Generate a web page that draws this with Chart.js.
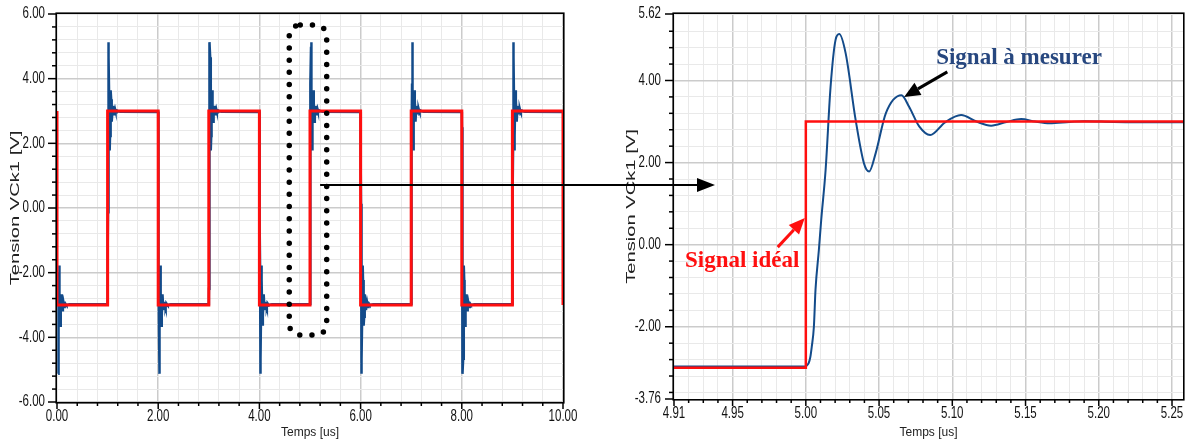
<!DOCTYPE html>
<html>
<head>
<meta charset="utf-8">
<script src="https://cdn.jsdelivr.net/npm/chart.js@4.4.1/dist/chart.umd.min.js"></script>
<style>
  html, body { margin: 0; padding: 0; background: #fff; }
  #wrap { position: relative; width: 1191px; height: 445px; overflow: hidden; }
  canvas { position: absolute; top: 0; }
  #left { left: 0; }
  #right { left: 600px; }
  #overlay { left: 0; pointer-events: none; }
</style>
</head>
<body>
<div id="wrap">
  <canvas id="left" width="600" height="445"></canvas>
  <canvas id="right" width="591" height="445"></canvas>
  <canvas id="overlay" width="1191" height="445"></canvas>
</div>
<script>
// ---- values ----
// ideal square wave (left chart)
const idealTimes  = [0, 0, 1, 1, 2, 2, 3, 3, 4, 4, 5, 5, 6, 6, 7, 7, 8, 8, 9, 9, 10, 10];
const idealLevels = [3, -3, -3, 3, 3, -3, -3, 3, 3, -3, -3, 3, 3, -3, -3, 3, 3, -3, -3, 3, 3, -3];

// edges of the measured signal
const risingEdges  = [1, 3, 5, 7, 9];
const fallingEdges = [0, 2, 4, 6, 8, 10];

// measured response after a rising edge: time after the edge [us] and voltage [V]
const stepOffsets = [0, 0.001, 0.002, 0.003, 0.004, 0.0055, 0.0066, 0.0089, 0.0105, 0.0135,
                     0.0169, 0.0203, 0.0228, 0.0272, 0.034, 0.0397, 0.0432, 0.0477, 0.0546,
                     0.0653, 0.0705, 0.0774, 0.0849, 0.095, 0.106, 0.1165, 0.1265, 0.137, 0.147,
                     0.1565, 0.1664, 0.18, 0.19, 0.21, 0.25];
const stepValues  = [-2.97, -2.93, -2.88, -2.75, -2.5, -2.0, -1.1, -0.13, 0.6, 1.82,
                     3.85, 4.99, 5.13, 4.66, 3.04, 1.98, 1.78, 2.23, 3.2,
                     3.64, 3.36, 2.88, 2.67, 2.98, 3.16, 3.0, 2.9, 2.99, 3.06,
                     3.0, 2.96, 2.99, 3.01, 2.99, 2.98];

// zoomed view (right chart)
const zoomEdge = 5.0;
const zoomIdealTimes  = [4.91, 5.0, 5.0, 5.2575];
const zoomIdealLevels = [-3, -3, 3, 3];

// axis ranges and tick labels
const leftX = [0, 10], leftY = [-6, 6];
const rightX = [4.91, 5.2575], rightY = [-3.76, 5.62];
const leftXLabels = [0, 2, 4, 6, 8, 10];
const leftYLabels = [-6, -4, -2, 0, 2, 4, 6];
const rightXLabels = [4.91, 4.95, 5.0, 5.05, 5.1, 5.15, 5.2, 5.25];
const rightYLabels = [-3.76, -2, 0, 2, 4, 5.62];
const rightXMajorGrid = [4.95, 5.0, 5.05, 5.1, 5.15, 5.2, 5.25];
const rightYMajorGrid = [-2, 0, 2, 4];

// ---- series built from the values above ----
const idealLeft = idealTimes.map((t, i) => ({ x: t, y: idealLevels[i] }));
const peakIndex = stepValues.indexOf(Math.max(...stepValues));
const edges = fallingEdges.map(t => ({ t, s: -1 }))
  .concat(risingEdges.map(t => ({ t, s: 1 })))
  .sort((a, b) => a.t - b.t);
const measuredLeft = [];
edges.forEach(({ t, s }, i) => {
  for (let k = i === 0 ? peakIndex : 0; k < stepOffsets.length; k++) {
    measuredLeft.push({ x: t + stepOffsets[k], y: s * stepValues[k] });
  }
});

const idealRight = zoomIdealTimes.map((t, i) => ({ x: t, y: zoomIdealLevels[i] }));
const measuredRight = [{ x: rightX[0], y: stepValues[0] }]
  .concat(stepOffsets.map((o, k) => ({ x: zoomEdge + o, y: stepValues[k] })))
  .concat([{ x: rightX[1], y: stepValues[stepValues.length - 1] }]);

// ---- styling ----
const RED = '#ff0f0f';
const BLUE = '#134b8a';
const SANS = '"Liberation Sans", Arial, sans-serif';
const SERIF = '"Liberation Serif", "Times New Roman", serif';

const near = (list, v) => list.some(m => Math.abs(m - v) < 1e-6);

function tickList(min, max, step, bounds) {
  const out = [];
  for (let k = Math.ceil(min / step - 1e-6); k <= Math.floor(max / step + 1e-6); k++) {
    const v = +(k * step).toFixed(4);
    if (!bounds.some(b => Math.abs(b - v) < step * 0.3)) out.push(v);
  }
  return out.concat(bounds).sort((a, b) => a - b);
}

function axis(range, step, bounds, majors, title) {
  return {
    type: 'linear',
    min: range[0],
    max: range[1],
    afterBuildTicks: s => { s.ticks = tickList(range[0], range[1], step, bounds).map(value => ({ value })); },
    ticks: { display: false, autoSkip: false, maxRotation: 0, minRotation: 0 },
    grid: {
      drawTicks: false,
      color: c => near(majors, c.tick.value) ? '#cbcbcb' : '#e9e9e9',
      lineWidth: c => near(majors, c.tick.value) ? 1.5 : 1
    },
    border: { display: false },
    title: title ? { display: true, text: title, color: '#222', font: { family: SANS, size: 12 }, padding: { top: 0, bottom: 5 } } : { display: false }
  };
}

// condensed text, as the original plotting tool draws it
function squeezed(ctx, text, x, y, sx, align, base) {
  ctx.save();
  ctx.translate(x, y);
  ctx.scale(sx, 1);
  ctx.textAlign = align;
  ctx.textBaseline = base;
  ctx.fillText(text, 0, 0);
  ctx.restore();
}

// frame, tick marks, tick labels and the rotated, stretched y title
const frame = {
  id: 'frame',
  afterDraw(chart, args, opts) {
    const { ctx, chartArea: a, scales: { x, y } } = chart;
    ctx.save();
    ctx.strokeStyle = '#000';
    ctx.fillStyle = '#111';
    ctx.lineWidth = 1.5;
    ctx.font = '16px ' + SANS;
    y.ticks.forEach(t => {
      const p = y.getPixelForValue(t.value), major = near(opts.yLabels, t.value);
      const len = major ? 9 : 5;
      ctx.beginPath(); ctx.moveTo(a.left - len, p); ctx.lineTo(a.left, p); ctx.stroke();
      if (major) squeezed(ctx, t.value.toFixed(2), a.left - opts.yPad, p, 0.72, 'right', 'middle');
    });
    x.ticks.forEach(t => {
      const p = x.getPixelForValue(t.value), major = near(opts.xLabels, t.value);
      const len = major ? 7 : 4;
      ctx.beginPath(); ctx.moveTo(p, a.bottom); ctx.lineTo(p, a.bottom + len); ctx.stroke();
      if (major) squeezed(ctx, t.value.toFixed(2), p, a.bottom + opts.xPad, 0.72, 'center', 'top');
    });
    ctx.lineWidth = 1.6;
    ctx.strokeRect(a.left - 0.8, a.top - 0.8, a.width + 1.6, a.height + 1.6);

    ctx.translate(a.left - opts.titleOffset, (a.top + a.bottom) / 2);
    ctx.rotate(-Math.PI / 2);
    ctx.font = '12px ' + SANS;
    ctx.fillStyle = '#222';
    squeezed(ctx, opts.title, 0, 0, opts.stretch, 'center', 'middle');
    ctx.restore();
  }
};

function arrow(ctx, x0, y0, x1, y1, color, width, headLen, headHalf) {
  const ang = Math.atan2(y1 - y0, x1 - x0);
  const bx = x1 - headLen * Math.cos(ang), by = y1 - headLen * Math.sin(ang);
  ctx.strokeStyle = color; ctx.fillStyle = color; ctx.lineWidth = width;
  ctx.beginPath(); ctx.moveTo(x0, y0); ctx.lineTo(bx, by); ctx.stroke();
  ctx.beginPath(); ctx.moveTo(x1, y1);
  ctx.lineTo(bx + headHalf * Math.sin(ang), by - headHalf * Math.cos(ang));
  ctx.lineTo(bx - headHalf * Math.sin(ang), by + headHalf * Math.cos(ang));
  ctx.closePath(); ctx.fill();
}

// dotted rounded box around the zoomed edge
const zoomBox = {
  id: 'zoomBox',
  afterDraw(chart, args, opts) {
    const { ctx, scales: { x, y } } = chart;
    const l = x.getPixelForValue(opts.x0), r = x.getPixelForValue(opts.x1);
    const t = y.getPixelForValue(opts.y1), b = y.getPixelForValue(opts.y0);
    const rad = opts.radius;
    ctx.save();
    ctx.strokeStyle = '#000';
    ctx.lineWidth = 5.5;
    ctx.lineCap = 'round';
    ctx.setLineDash([0, 12.2]);
    ctx.beginPath();
    ctx.moveTo(l + rad, t);
    ctx.lineTo(r - rad, t); ctx.arcTo(r, t, r, t + rad, rad);
    ctx.lineTo(r, b - rad); ctx.arcTo(r, b, r - rad, b, rad);
    ctx.lineTo(l + rad, b); ctx.arcTo(l, b, l, b - rad, rad);
    ctx.lineTo(l, t + rad); ctx.arcTo(l, t, l + rad, t, rad);
    ctx.stroke();
    ctx.restore();
  }
};

// labels and arrows of the zoomed chart
const notes = {
  id: 'notes',
  afterDraw(chart, args, opts) {
    const { ctx, scales: { x, y } } = chart;
    ctx.save();
    ctx.font = 'bold 23px ' + SERIF;
    ctx.textBaseline = 'alphabetic';
    opts.items.forEach(n => {
      ctx.fillStyle = n.color;
      ctx.fillText(n.text, x.getPixelForValue(n.at[0]), y.getPixelForValue(n.at[1]));
      arrow(ctx, x.getPixelForValue(n.from[0]), y.getPixelForValue(n.from[1]),
            x.getPixelForValue(n.to[0]), y.getPixelForValue(n.to[1]), n.arrowColor, 3, 16, 7);
    });
    ctx.restore();
  }
};

Chart.defaults.animation = false;

const leftChart = new Chart(document.getElementById('left'), {
  type: 'line',
  data: {
    datasets: [
      { data: idealLeft, borderColor: RED, borderWidth: 3, pointRadius: 0, tension: 0 },
      { data: measuredLeft, borderColor: BLUE, borderWidth: 2.5, pointRadius: 0, tension: 0 }
    ]
  },
  options: {
    responsive: false,
    events: [],
    layout: { padding: { top: 14, right: 37, left: 0, bottom: 0 } },
    plugins: {
      legend: { display: false }, tooltip: { enabled: false },
      frame: { title: 'Tension VCk1 [V]', titleOffset: 41, stretch: 1.68,
               xLabels: leftXLabels, yLabels: leftYLabels, xPad: 7, yPad: 12 },
      zoomBox: { x0: 4.59, x1: 5.33, y0: -3.93, y1: 5.66, radius: 11 }
    },
    scales: {
      x: Object.assign(axis(leftX, 0.4, [], leftXLabels, 'Temps [us]'), { afterFit: s => { s.height = 43; } }),
      y: Object.assign(axis(leftY, 0.4, [], leftYLabels), { afterFit: s => { s.width = 57; } })
    }
  },
  plugins: [frame, zoomBox]
});

const rightChart = new Chart(document.getElementById('right'), {
  type: 'line',
  data: {
    datasets: [
      { data: idealRight, borderColor: RED, borderWidth: 2.5, pointRadius: 0, tension: 0 },
      { data: measuredRight, borderColor: BLUE, borderWidth: 2, pointRadius: 0, cubicInterpolationMode: 'monotone' }
    ]
  },
  options: {
    responsive: false,
    events: [],
    layout: { padding: { top: 14, right: 8, left: 0, bottom: 0 } },
    plugins: {
      legend: { display: false }, tooltip: { enabled: false },
      frame: { title: 'Tension VCk1 [V]', titleOffset: 42, stretch: 1.68,
               xLabels: rightXLabels, yLabels: rightYLabels, xPad: 7, yPad: 13 },
      notes: {
        items: [
          { text: 'Signal à mesurer', color: '#27477f', at: [5.089, 4.40], from: [5.0966, 4.21], to: [5.0671, 3.60], arrowColor: '#000' },
          { text: 'Signal idéal', color: RED, at: [4.9175, -0.55], from: [4.9808, -0.06], to: [4.9993, 0.65], arrowColor: RED }
        ]
      }
    },
    scales: {
      x: Object.assign(axis(rightX, 0.01, [], rightXMajorGrid, 'Temps [us]'), { afterFit: s => { s.height = 46; } }),
      y: Object.assign(axis(rightY, 0.4, rightY, rightYMajorGrid), { afterFit: s => { s.width = 74; } })
    }
  },
  plugins: [frame, notes]
});

// connecting arrow from the dotted box to the zoomed chart
(function drawLink() {
  const link = { fromT: 5.2, level: 0.71, toT: 4.938 };
  const ov = document.getElementById('overlay').getContext('2d');
  const rc = document.getElementById('right');
  const x0 = leftChart.scales.x.getPixelForValue(link.fromT);
  const y0 = leftChart.scales.y.getPixelForValue(link.level);
  const x1 = rc.offsetLeft + rightChart.scales.x.getPixelForValue(link.toT);
  arrow(ov, x0, y0, x1, y0, '#000', 2, 18, 7);
})();
</script>
</body>
</html>
